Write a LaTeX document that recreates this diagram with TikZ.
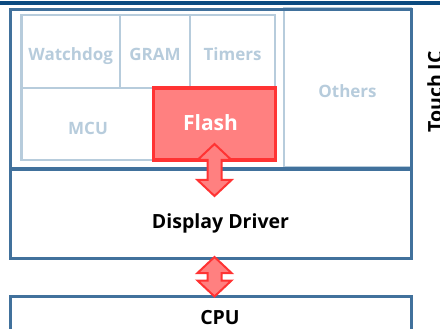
\documentclass[tikz,border=0pt]{standalone}
\usepackage{fontspec}
\setmainfont{Open Sans}
\usetikzlibrary{calc}

\definecolor{icblue}{HTML}{41719C}
\definecolor{topbar}{HTML}{0B4A80}
\definecolor{lightline}{HTML}{B7CCDC}
\definecolor{flashline}{HTML}{FF3333}
\definecolor{flashfill}{HTML}{FF8080}

\tikzset{
  chip/.style={rectangle, draw=icblue, line width=3pt, inner sep=0pt, outer sep=0pt},
  part/.style={rectangle, draw=lightline, line width=2.7pt, inner sep=0pt, outer sep=0pt,
    text=lightline, font=\bfseries\fontsize{17}{17}\selectfont,
    text height=18.1pt, text depth=0pt},
  flashpart/.style={rectangle, draw=flashline, fill=flashfill, line width=3.8pt,
    inner sep=0pt, outer sep=0pt},
  flashtext/.style={text=white, font=\bfseries\fontsize{21}{21}\selectfont},
  busarrow/.style={draw=flashline, fill=flashfill, line width=2pt, line join=miter},
  bigtext/.style={font=\bfseries\fontsize{19.5}{19.5}\selectfont}
}

\begin{document}
\begin{tikzpicture}[x=1pt, y=-1pt]
      % Variables
      \def \midx  {210.5}
      \def \hw    {17}
      \def \sw    {7}
      \def \hl    {16}

      \useasboundingbox (0,0) rectangle (440,329);

      % Top bar
      \fill[topbar] (0,1) rectangle (440,5.5);

      % Blocks inside the touch IC
      \node[part, minimum width=127pt, minimum height=159pt] (others) at (347.5,88) {Others};
      \node[part, minimum width=98.5pt, minimum height=73pt] (watchdog) at (70.75,51.5) {Watchdog};
      \node[part, minimum width=70pt, minimum height=73pt] (gram) at (155,51.5) {GRAM};
      \node[part, minimum width=85pt, minimum height=73pt] (timers) at (232.5,51.5) {Timers};
      \node[part, minimum width=253.5pt, minimum height=72pt] (mcu) at (148.25,124) {};
      \node[part, draw=none, anchor=base] (mculabel) at (88,135) {MCU};
      \node[flashpart, minimum width=122pt, minimum height=72pt,
        label={[flashtext, xshift=-4pt, yshift=1pt]center:Flash}] (flash) at (214.5,124) {};

      % Rectangles
      \node[chip, minimum width=401pt, minimum height=159pt] (touch) at (\midx,89.5) {};
      \node[chip, minimum width=401pt, minimum height=88pt,
        label={[bigtext, xshift=10pt, yshift=-9pt]center:Display Driver}] (driver) at (\midx,214) {};
      \node[chip, minimum width=401pt, minimum height=70pt] (cpu) at (\midx,331) {};
      \node[bigtext, anchor=base] (cpulabel) at (220,324.5) {CPU};

      % Bus arrows
      \coordinate (f1) at ([yshift=16pt]flash.south);
      \coordinate (d1) at ($(flash.south |- driver.north)+(0,26)$);
      \coordinate (d2) at ($(flash.south |- driver.south)+(0,-1)$);
      \coordinate (c2) at ($(flash.south |- cpu.north)+(0,0.5)$);
      \foreach \a/\b in {f1/d1, d2/c2} {
        \draw[busarrow] (\a) -- ++(\hw,\hl) -- ++(-\hw+\sw,0) -- ($(\b)+(\sw,-\hl)$)
          -- ++(\hw-\sw,0) -- (\b) -- ++(-\hw,-\hl) -- ++(\hw-\sw,0)
          -- ($(\a)+(-\sw,\hl)$) -- ++(-\hw+\sw,0) -- cycle;
      }

      % Side label
      \node[bigtext, rotate=90, anchor=north, inner sep=0pt] (touchlabel) at (427,92) {Touch IC};

    \end{tikzpicture}
\end{document}
